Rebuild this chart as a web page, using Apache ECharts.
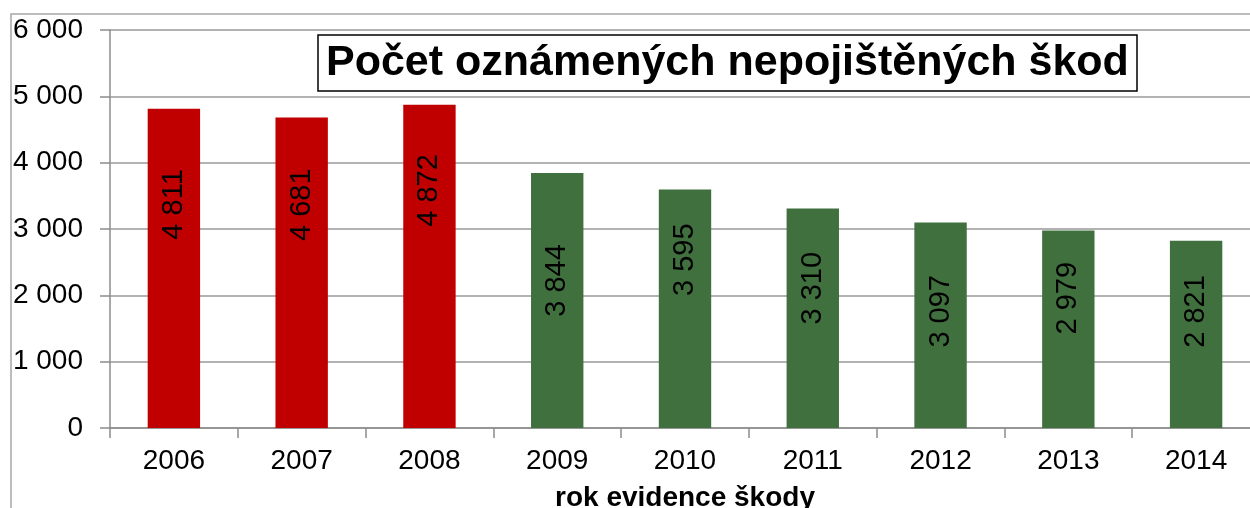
<!DOCTYPE html>
<html>
<head>
<meta charset="utf-8">
<script src="https://cdn.jsdelivr.net/npm/echarts@6/dist/echarts.min.js"></script>
<style>
    html, body {margin: 0; padding: 0; background: #fff;}
    #chart {width: 1250px; height: 508px;}
</style>
</head>
<body>
<div id="chart"></div>
<script>
// rok evidence škody
var years = ['2006', '2007', '2008', '2009', '2010', '2011', '2012', '2013', '2014'];
// počet oznámených nepojištěných škod
var claims = [4811, 4681, 4872, 3844, 3595, 3310, 3097, 2979, 2821];
var yTicks = [0, 1000, 2000, 3000, 4000, 5000, 6000];

// label lift above bar middle (px), style only
var labelLift = [64, 68, 76, 20, 49, 30, 14, 31, 23];

var FONT = '"Liberation Sans", Arial, sans-serif';

function fmt(v) {
    return String(v).replace(/\B(?=(\d{3})+(?!\d))/g, ' ');
}

var barData = claims.map(function (v, i) {
    return {
        value: v,
        itemStyle: {color: Number(years[i]) < 2009 ? '#c00000' : '#41703f'},
        label: {offset: [labelLift[i], 0]}
    };
});

var chart = echarts.init(document.getElementById('chart'));
chart.setOption({
    animation: false,
    backgroundColor: '#fff',
    title: {
        text: 'Počet oznámených nepojištěných škod',
        left: 318,
        top: 35,
        padding: [7, 8],
        borderColor: '#000',
        borderWidth: 1.5,
        backgroundColor: '#fff',
        textStyle: {fontFamily: FONT, fontSize: 43, fontWeight: 'bold', color: '#000', lineHeight: 42}
    },
    graphic: [{
        type: 'polyline',
        silent: true,
        shape: {points: [[11, 520], [11, 14], [1260, 14]]},
        style: {stroke: '#a6a6a6', lineWidth: 1.5, fill: null}
    }],
    grid: {left: 110, top: 30, width: 1150, height: 398, containLabel: false, outerBoundsMode: 'none'},
    xAxis: {
        type: 'category',
        data: years,
        name: 'rok evidence škody',
        nameLocation: 'middle',
        nameGap: 56,
        nameTextStyle: {fontFamily: FONT, fontSize: 28, fontWeight: 'bold', color: '#000'},
        axisLine: {lineStyle: {color: '#8c8c8c', width: 1.5}},
        axisTick: {show: true, length: 10, alignWithLabel: false, lineStyle: {color: '#8c8c8c', width: 1.5}},
        axisLabel: {fontFamily: FONT, fontSize: 28, color: '#000', margin: 19}
    },
    yAxis: {
        type: 'value',
        min: yTicks[0],
        max: yTicks[yTicks.length - 1],
        interval: 1000,
        axisLine: {show: true, lineStyle: {color: '#8c8c8c', width: 1.5}},
        axisTick: {show: true, length: 10, lineStyle: {color: '#8c8c8c', width: 1.5}},
        splitLine: {lineStyle: {color: '#999', width: 1.5}},
        axisLabel: {fontFamily: FONT, fontSize: 28, color: '#000', margin: 27, formatter: fmt}
    },
    series: [{
        type: 'bar',
        data: barData,
        barWidth: '41%',
        label: {
            show: true,
            position: 'inside',
            rotate: 90,
            align: 'center',
            verticalAlign: 'middle',
            fontFamily: FONT,
            fontSize: 29,
            color: '#000',
            formatter: function (p) { return fmt(p.value); }
        }
    }]
});
</script>
</body>
</html>
